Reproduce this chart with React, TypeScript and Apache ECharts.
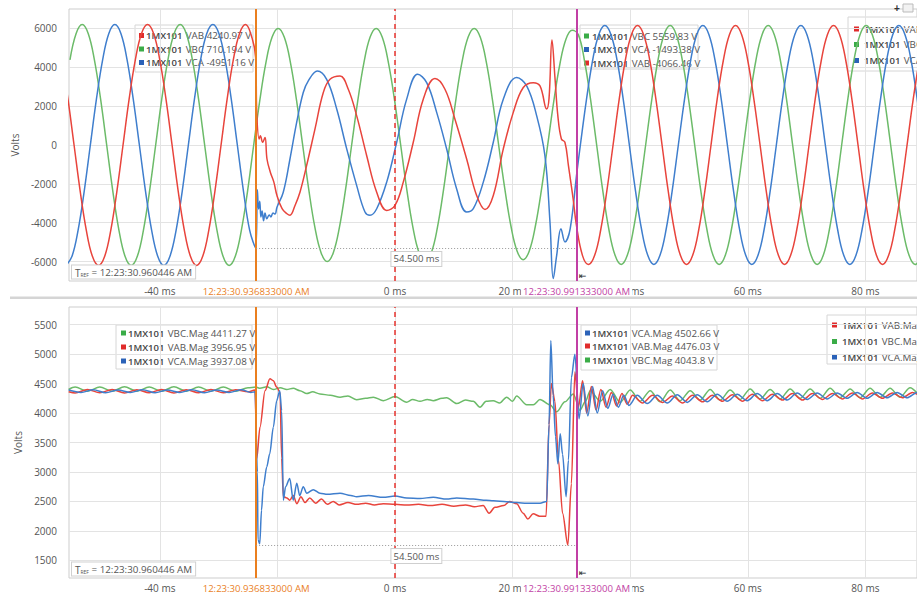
import React, { useEffect, useRef } from 'react';
import * as echarts from 'echarts';

// ---------- data ----------
const cursorA = -23.613; // ms, 12:23:30.936833000 AM
const cursorB = 30.887; // ms, 12:23:30.991333000 AM
const cursorALabel = '12:23:30.936833000 AM';
const cursorBLabel = '12:23:30.991333000 AM';
const trefLabel = ' = 12:23:30.960446 AM';
const deltaLabel = '54.500 ms';
const deltaLevelTop = -5300;
const deltaLevelMag = 1760;

const xTickMin = -40;
const xTickMax = 80;
const xTickStep = 20;
const topTickMin = -6000;
const topTickMax = 6000;
const topTickStep = 2000;
const magTickMin = 1500;
const magTickMax = 5500;
const magTickStep = 500;

// time (ms), volts
const vbcTop: number[][] = [[-55.28,4380],[-54.24,5730],[-53.2,6200],[-52.16,5730],[-51.12,4380],[-50.07,2370],[-49.03,0],[-47.99,-2370],[-46.95,-4380],[-45.91,-5730],[-44.87,-6200],[-43.82,-5730],[-42.78,-4380],[-41.74,-2370],[-40.7,0],[-39.66,2370],[-38.62,4380],[-37.57,5730],[-36.53,6200],[-35.49,5730],[-34.45,4380],[-33.41,2370],[-32.37,0],[-31.32,-2370],[-30.28,-4380],[-29.24,-5730],[-28.2,-6200],[-27.16,-5730],[-26.12,-4380],[-25.07,-2370],[-24.03,0],[-22.99,2300],[-21.95,4240],[-20.91,5540],[-19.87,6000],[-18.82,5540],[-17.78,4240],[-16.74,2300],[-15.7,0],[-14.66,-2300],[-13.62,-4240],[-12.57,-5540],[-11.53,-6000],[-10.49,-5540],[-9.45,-4240],[-8.41,-2300],[-7.37,0],[-6.32,2300],[-5.28,4240],[-4.24,5540],[-3.2,6000],[-2.16,5540],[-1.12,4240],[-0.07,2300],[0.97,0],[2.01,-2300],[3.05,-4240],[4.09,-5540],[5.13,-6000],[6.18,-5540],[7.22,-4240],[8.26,-2300],[9.3,0],[10.34,2300],[11.38,4240],[12.43,5540],[13.47,6000],[14.51,5540],[15.55,4240],[16.59,2300],[17.63,0],[18.68,-2260],[19.72,-4170],[20.76,-5450],[21.8,-5900],[22.84,-5450],[23.88,-4170],[24.93,-2260],[25.97,0],[27.01,2260],[28.05,4170],[29.09,5450],[30.13,5900],[31.18,5680],[32.22,4350],[33.26,2350],[34.3,0],[35.34,-2350],[36.38,-4350],[37.43,-5680],[38.47,-6150],[39.51,-5680],[40.55,-4350],[41.59,-2350],[42.63,0],[43.68,2350],[44.72,4350],[45.76,5680],[46.8,6150],[47.84,5680],[48.88,4350],[49.93,2350],[50.97,0],[52.01,-2350],[53.05,-4350],[54.09,-5680],[55.13,-6150],[56.18,-5680],[57.22,-4350],[58.26,-2350],[59.3,0],[60.34,2350],[61.38,4350],[62.43,5680],[63.47,6150],[64.51,5680],[65.55,4350],[66.59,2350],[67.63,0],[68.68,-2350],[69.72,-4350],[70.76,-5680],[71.8,-6150],[72.84,-5680],[73.88,-4350],[74.93,-2350],[75.97,0],[77.01,2350],[78.05,4350],[79.09,5680],[80.13,6150],[81.18,5680],[82.22,4350],[83.26,2350],[84.3,0],[85.34,-2350],[86.38,-4350],[87.43,-5680],[88.47,-6150],[89.51,-5680]];

const vcaTop: number[][] = [[-55.97,-6200],[-54.93,-5730],[-53.89,-4380],[-52.85,-2370],[-51.81,0],[-50.77,2370],[-49.72,4380],[-48.68,5730],[-47.64,6200],[-46.6,5730],[-45.56,4380],[-44.52,2370],[-43.47,0],[-42.43,-2370],[-41.39,-4380],[-40.35,-5730],[-39.31,-6200],[-38.27,-5730],[-37.22,-4380],[-36.18,-2370],[-35.14,0],[-34.1,2370],[-33.06,4380],[-32.02,5730],[-30.97,6200],[-29.93,5730],[-28.89,4380],[-27.85,2370],[-26.81,0],[-25.77,-2370],[-24.72,-4380],[-23.7,-5300],[-23.4,-2300],[-23.2,-3300],[-23.0,-2900],[-22.8,-3700],[-22.6,-3400],[-22.35,-3900],[-22.1,-3500],[-21.8,-3800],[-21.4,-3600],[-21.1,-3700],[-20.75,-3500],[-20.4,-3550],[-20.07,-3200],[-19.0,-2430],[-17.86,-720],[-16.72,1160],[-15.6,2700],[-14.74,3300],[-13.21,3810],[-11.62,3380],[-9.91,1850],[-8.21,-200],[-6.51,-2090],[-5.1,-3450],[-4.25,-3620],[-3.11,-3280],[-1.41,-1910],[0.29,140],[1.99,2360],[3.86,3640],[5.39,3210],[7.09,1680],[8.79,-205],[10.49,-2260],[12.19,-3450],[13.32,-3280],[15.02,-1910],[16.72,140],[18.42,2360],[20.7,3470],[22.4,3040],[24.1,1500],[25.5,-550],[26.36,-3960],[26.92,-6870],[27.5,-5680],[28.23,-4310],[28.91,-4990],[29.8,-4300],[30.9,-1500],[31.53,0],[32.57,2350],[33.61,4350],[34.65,5680],[35.69,6150],[36.74,5680],[37.78,4350],[38.82,2350],[39.86,0],[40.9,-2350],[41.94,-4350],[42.99,-5680],[44.03,-6150],[45.07,-5680],[46.11,-4350],[47.15,-2350],[48.19,0],[49.24,2350],[50.28,4350],[51.32,5680],[52.36,6150],[53.4,5680],[54.44,4350],[55.49,2350],[56.53,0],[57.57,-2350],[58.61,-4350],[59.65,-5680],[60.69,-6150],[61.74,-5680],[62.78,-4350],[63.82,-2350],[64.86,0],[65.9,2350],[66.94,4350],[67.99,5680],[69.03,6150],[70.07,5680],[71.11,4350],[72.15,2350],[73.19,0],[74.24,-2350],[75.28,-4350],[76.32,-5680],[77.36,-6150],[78.4,-5680],[79.44,-4350],[80.49,-2350],[81.53,0],[82.57,2350],[83.61,4350],[84.65,5680],[85.69,6150],[86.74,5680],[87.78,4350],[88.82,2350],[89.86,0]];

const vabTop: number[][] = [[-56.66,4380],[-55.62,2370],[-54.58,0],[-53.54,-2370],[-52.5,-4380],[-51.46,-5730],[-50.41,-6200],[-49.37,-5730],[-48.33,-4380],[-47.29,-2370],[-46.25,0],[-45.21,2370],[-44.16,4380],[-43.12,5730],[-42.08,6200],[-41.04,5730],[-40.0,4380],[-38.95,2370],[-37.91,0],[-36.87,-2370],[-35.83,-4380],[-34.79,-5730],[-33.75,-6200],[-32.7,-5730],[-31.66,-4380],[-30.62,-2370],[-29.58,0],[-28.54,2370],[-27.5,4380],[-26.45,5730],[-25.41,6200],[-24.3,5500],[-23.7,4500],[-23.5,1600],[-23.1,310],[-22.9,480],[-22.5,140],[-22.1,390],[-21.77,-720],[-21.2,-1400],[-20.6,-1910],[-20.07,-2600],[-19.2,-3280],[-18.37,-3540],[-17.86,-3620],[-17.0,-3110],[-16.16,-2430],[-15.03,-1060],[-13.61,820],[-12.19,2700],[-11.05,3380],[-9.35,3550],[-7.94,2870],[-6.51,1500],[-4.81,-550],[-3.11,-2430],[-1.41,-3370],[0.0,-3110],[1.41,-1910],[3.11,140],[4.81,2360],[6.8,3420],[8.5,2870],[10.2,1330],[12.19,-720],[13.89,-2600],[15.31,-3320],[16.72,-2600],[18.42,-200],[20.12,1680],[21.82,2960],[23.52,3210],[24.66,3040],[25.8,1850],[26.2,2400],[26.7,5400],[27.2,3500],[27.7,1500],[28.3,310],[28.9,140],[29.5,-1060],[30.3,-2770],[30.84,-4100],[31.88,-5680],[32.92,-6150],[33.96,-5680],[35.0,-4350],[36.04,-2350],[37.09,0],[38.13,2350],[39.17,4350],[40.21,5680],[41.25,6150],[42.29,5680],[43.34,4350],[44.38,2350],[45.42,0],[46.46,-2350],[47.5,-4350],[48.54,-5680],[49.59,-6150],[50.63,-5680],[51.67,-4350],[52.71,-2350],[53.75,0],[54.79,2350],[55.84,4350],[56.88,5680],[57.92,6150],[58.96,5680],[60.0,4350],[61.04,2350],[62.09,0],[63.13,-2350],[64.17,-4350],[65.21,-5680],[66.25,-6150],[67.29,-5680],[68.34,-4350],[69.38,-2350],[70.42,0],[71.46,2350],[72.5,4350],[73.54,5680],[74.59,6150],[75.63,5680],[76.67,4350],[77.71,2350],[78.75,0],[79.79,-2350],[80.84,-4350],[81.88,-5680],[82.92,-6150],[83.96,-5680],[85.0,-4350],[86.04,-2350],[87.09,0],[88.13,2350],[89.17,4350]];

const vbcMag: number[][] = [[-55.5,4400],[-54.4,4440],[-52.3,4370],[-50.2,4440],[-48.1,4370],[-46.0,4445],[-43.9,4370],[-41.8,4440],[-39.7,4370],[-37.6,4445],[-35.5,4370],[-33.4,4440],[-31.3,4370],[-29.2,4440],[-27.1,4370],[-25.0,4430],[-23.64,4440],[-22.96,4420],[-21.8,4445],[-20.69,4400],[-19.5,4430],[-18.42,4400],[-17.3,4420],[-16.16,4380],[-15.02,4330],[-14.0,4360],[-12.76,4325],[-11.0,4300],[-9.35,4270],[-8.0,4290],[-6.52,4225],[-5.0,4250],[-3.68,4270],[-1.98,4210],[0.0,4280],[1.98,4185],[3.0,4230],[4.25,4200],[5.5,4230],[6.52,4210],[8.0,4250],[8.79,4260],[10.49,4160],[12.0,4220],[13.32,4200],[14.46,4100],[15.5,4200],[16.72,4210],[17.8,4170],[18.99,4270],[20.0,4200],[20.69,4290],[22.39,4140],[23.53,4140],[24.66,4230],[26.36,4140],[27.49,4020],[28.91,4190],[30.33,4325],[31.46,4045],[32.4,4200],[33.2,4380],[34.9,4200],[36.6,4400],[38.3,4180],[40.0,4390],[41.7,4200],[43.4,4380],[45.1,4190],[46.8,4390],[48.5,4210],[50.2,4380],[51.9,4220],[53.6,4400],[55.3,4220],[57.0,4390],[58.7,4230],[60.4,4410],[62.1,4240],[63.8,4400],[65.5,4240],[67.2,4410],[68.9,4250],[70.6,4410],[72.3,4250],[74.0,4420],[75.7,4260],[77.4,4410],[79.1,4260],[80.8,4420],[82.5,4270],[84.2,4420],[85.9,4270],[87.6,4430],[89.3,4280]];

const vabMag: number[][] = [[-55.5,4360],[-54.4,4340],[-52.3,4400],[-50.2,4345],[-48.1,4400],[-46.0,4340],[-43.9,4395],[-41.8,4345],[-39.7,4400],[-37.6,4340],[-35.5,4395],[-33.4,4345],[-31.3,4400],[-29.2,4345],[-27.1,4395],[-25.0,4360],[-23.8,4390],[-23.5,3230],[-22.96,3760],[-22.1,4380],[-21.26,4580],[-20.69,4550],[-20.12,4440],[-19.55,4350],[-19.27,3230],[-18.99,2580],[-18.4,2560],[-17.9,2520],[-17.3,2600],[-16.7,2460],[-16.0,2580],[-15.3,2480],[-14.5,2560],[-13.5,2470],[-12.5,2540],[-11.5,2450],[-10.5,2500],[-9.5,2440],[-8.0,2480],[-6.5,2450],[-5.0,2470],[-3.5,2440],[-2.0,2460],[0.0,2450],[2.0,2440],[4.0,2450],[6.0,2430],[8.0,2450],[10.0,2420],[12.0,2440],[13.5,2410],[15.0,2430],[16.0,2300],[17.0,2400],[18.5,2430],[19.5,2500],[20.7,2460],[21.8,2300],[22.6,2200],[23.5,2290],[24.6,2250],[25.7,2250],[26.2,3800],[26.6,4500],[27.2,4200],[27.8,3200],[28.5,2300],[29.4,1760],[30.0,2800],[30.6,4700],[31.2,4100],[31.9,4550],[32.6,4000],[33.4,4450],[34.2,4050],[35.0,4400],[35.9,4100],[36.8,4350],[37.7,4120],[38.6,4330],[39.5,4150],[40.4,4300],[42.1,4170],[43.8,4300],[45.5,4180],[47.2,4290],[48.9,4170],[50.6,4300],[52.3,4190],[54.0,4300],[55.7,4200],[57.4,4310],[59.1,4200],[60.8,4320],[62.5,4210],[64.2,4320],[65.9,4220],[67.6,4330],[69.3,4220],[71.0,4330],[72.7,4230],[74.4,4330],[76.1,4240],[77.8,4340],[79.5,4240],[81.2,4340],[82.9,4250],[84.6,4340],[86.3,4260],[88.0,4350],[89.7,4260]];

const vcaMag: number[][] = [[-55.5,4390],[-53.4,4350],[-51.3,4395],[-49.2,4345],[-47.1,4390],[-45.0,4350],[-42.9,4395],[-40.8,4345],[-38.7,4390],[-36.6,4350],[-34.5,4395],[-32.4,4345],[-30.3,4390],[-28.2,4350],[-26.1,4395],[-24.5,4350],[-23.8,4360],[-23.4,3000],[-23.3,1850],[-23.0,1780],[-22.7,2350],[-22.4,2750],[-21.8,3090],[-21.3,3310],[-20.69,3760],[-20.12,4210],[-19.6,4380],[-19.27,4040],[-18.99,2520],[-18.6,2750],[-17.9,2890],[-17.3,2520],[-16.7,2810],[-16.2,2600],[-15.6,2750],[-15.0,2640],[-13.9,2700],[-12.76,2640],[-11.5,2620],[-9.35,2640],[-7.5,2600],[-6.52,2580],[-4.5,2600],[-2.0,2570],[0.0,2590],[2.0,2560],[4.25,2550],[6.5,2570],[8.79,2540],[10.5,2560],[13.32,2540],[15.5,2520],[16.72,2510],[18.99,2495],[20.69,2480],[22.39,2470],[24.66,2470],[25.8,2500],[26.2,3800],[26.5,5230],[26.9,4300],[27.3,3600],[27.7,3140],[28.1,3650],[28.5,3300],[29.1,2580],[29.5,3200],[30.0,4600],[30.6,5000],[31.3,3900],[32.0,4500],[32.8,3950],[33.6,4450],[34.4,4000],[35.3,4380],[36.2,4080],[37.1,4320],[38.0,4100],[38.9,4300],[39.8,4130],[41.2,4300],[42.9,4160],[44.6,4300],[46.3,4170],[48.0,4310],[49.7,4180],[51.4,4310],[53.1,4190],[54.8,4320],[56.5,4200],[58.2,4320],[59.9,4210],[61.6,4330],[63.3,4210],[65.0,4330],[66.7,4220],[68.4,4340],[70.1,4230],[71.8,4340],[73.5,4240],[75.2,4340],[76.9,4250],[78.6,4350],[80.3,4250],[82.0,4350],[83.7,4260],[85.4,4350],[87.1,4260],[88.8,4350],[90.5,4270]];

// legend read-outs
const topLegA = [['VAB', '4240.97 V'], ['VBC', '710.194 V'], ['VCA', '-4951.16 V']];
const topLegB = [['VBC', '5559.83 V'], ['VCA', '-1493.38 V'], ['VAB', '-4066.46 V']];
const topLegC = [['VAB', ''], ['VBC', ''], ['VCA', '']];
const magLegA = [['VBC.Mag', '4411.27 V'], ['VAB.Mag', '3956.95 V'], ['VCA.Mag', '3937.08 V']];
const magLegB = [['VCA.Mag', '4502.66 V'], ['VAB.Mag', '4476.03 V'], ['VBC.Mag', '4043.8 V']];
const magLegC = [['VAB.Mag', ''], ['VBC.Mag', ''], ['VCA.Mag', '']];
const devicePrefix = '1MX101';

// ---------- styles ----------
const FONT = '"Open Sans", "Noto Sans", sans-serif';
const RED = '#e8443c';
const GREEN = '#6cbb69';
const BLUE = '#3f7ecd';
const MK = { VAB: '#e02b2b', VBC: '#3aac47', VCA: '#2b62b8' } as Record<string, string>;
const ORANGE = '#ea7f1f';
const PURPLE = '#c23fa5';
const TXT = '#555';

const X_MIN = -55.44;
const X_MAX = 88.78;

function markerColor(name: string) {
  return MK[name.slice(0, 3)];
}

function legendBox(x: number, y: number, w: number, h: number, rows: string[][], rowY: number[], mX: number, tX: number) {
  const children: any[] = [
    { type: 'rect', shape: { x, y, width: w, height: h }, style: { fill: 'rgba(255,255,255,0.92)', stroke: '#d6d6d6', lineWidth: 1 } },
  ];
  rows.forEach((r, i) => {
    children.push({ type: 'rect', shape: { x: mX, y: rowY[i] - 2.5, width: 5, height: 5 }, style: { fill: markerColor(r[0]) } });
    children.push({
      type: 'text', x: tX, y: rowY[i],
      style: {
        text: `{b|${devicePrefix}} {n|${r[0]}${r[1] ? ' ' + r[1] : ''}}`,
        verticalAlign: 'middle',
        rich: {
          b: { fontFamily: FONT, fontSize: 9.5, fontWeight: 600, fill: '#444' },
          n: { fontFamily: FONT, fontSize: 9.8, fill: '#555' },
        },
      },
    });
  });
  return { type: 'group', z: 100, children };
}

function trefBox(y: number) {
  return {
    type: 'text', x: 72, y, z: 100,
    style: {
      text: `{t|T}{s|REF}{n|${trefLabel}}`,
      verticalAlign: 'middle',
      backgroundColor: '#fff', borderColor: '#d0d0d0', borderWidth: 1, padding: [2, 3, 1, 3],
      rich: {
        t: { fontFamily: FONT, fontSize: 10, fill: '#555' },
        s: { fontFamily: FONT, fontSize: 5, fill: '#555', padding: [5, 0, 0, 0] },
        n: { fontFamily: FONT, fontSize: 9.8, fill: '#555' },
      },
    },
  };
}

function cursorMarks(level: number) {
  const lab = (txt: string, col: string) => ({
    show: true, position: 'start', distance: 4, formatter: txt, color: col,
    fontFamily: FONT, fontSize: 9.6, backgroundColor: '#fff', padding: [1, 2],
  });
  return {
    symbol: 'none', silent: true, animation: false,
    data: [
      { xAxis: 0, lineStyle: { color: '#e8332e', type: [5, 4], width: 1.5 }, label: { show: false } },
      { xAxis: cursorA, lineStyle: { color: ORANGE, type: 'solid', width: 2 }, label: lab(cursorALabel, ORANGE) },
      { xAxis: cursorB, lineStyle: { color: PURPLE, type: 'solid', width: 2 }, label: lab(cursorBLabel, PURPLE) },
      [
        { coord: [cursorA, level], lineStyle: { color: '#999', type: [1, 2], width: 1 },
          label: { show: true, position: 'insideMiddleBottom', distance: 4, formatter: deltaLabel, color: TXT, fontFamily: FONT, fontSize: 9.6,
            backgroundColor: '#fff', borderColor: '#cfcfcf', borderWidth: 1, padding: [2, 2] } },
        { coord: [cursorB, level] },
      ],
    ],
  };
}

function lineSeries(name: string, data: number[][], color: string, xi: number, yi: number, extra: any = {}) {
  return {
    type: 'line', name, data, xAxisIndex: xi, yAxisIndex: yi, showSymbol: false, symbol: 'none',
    smooth: 0.4, lineStyle: { color, width: 1.5 }, itemStyle: { color }, animation: false,
    clip: true, ...extra,
  };
}

const labelStyle = { color: TXT, fontFamily: FONT, fontSize: 10 };
const splitStyle = { show: true, lineStyle: { color: '#e3e3e3', width: 1 } };
const plainNum = (v: number) => String(v);

function buildOption() {
  const gTop = 9, gTopH = 272;
  const gBot = 307, gBotH = 271;
  const left = 69;
  const xPx = (t: number) => left + (t - X_MIN) / (X_MAX - X_MIN) * (917 - left);
  const tickLeft = xPx(xTickMin);
  const tickW = xPx(xTickMax) - tickLeft;
  const topYpx = (v: number) => gTop + (7000 - v) / 14000 * gTopH;
  const magYpx = (v: number) => gBot + (5800 - v) / 4600 * gBotH;

  const hiddenX = (gi: number, min: number, max: number) => ({ type: 'value', gridIndex: gi, min, max, show: false });
  const hiddenY = (gi: number, min: number, max: number) => ({ type: 'value', gridIndex: gi, min, max, show: false });

  return {
    animation: false,
    backgroundColor: '#fff',
    grid: [
      { left, right: 0, top: gTop, height: gTopH, show: true, borderColor: '#cdcdcd', borderWidth: 1, backgroundColor: 'transparent' },
      { left, right: 0, top: topYpx(topTickMax), height: topYpx(topTickMin) - topYpx(topTickMax) },
      { left: tickLeft, width: tickW, top: gTop, height: gTopH },
      { left, right: 0, top: gBot, height: gBotH, show: true, borderColor: '#cdcdcd', borderWidth: 1, backgroundColor: 'transparent' },
      { left, right: 0, top: magYpx(magTickMax), height: magYpx(magTickMin) - magYpx(magTickMax) },
      { left: tickLeft, width: tickW, top: gBot, height: gBotH },
    ],
    xAxis: [
      hiddenX(0, X_MIN, X_MAX),
      hiddenX(1, 0, 1),
      { type: 'value', gridIndex: 2, min: xTickMin, max: xTickMax, interval: xTickStep, axisLine: { show: false }, axisTick: { show: false },
        splitLine: splitStyle, axisLabel: { ...labelStyle, margin: 5, formatter: '{value} ms' } },
      hiddenX(3, X_MIN, X_MAX),
      hiddenX(4, 0, 1),
      { type: 'value', gridIndex: 5, min: xTickMin, max: xTickMax, interval: xTickStep, axisLine: { show: false }, axisTick: { show: false },
        splitLine: splitStyle, axisLabel: { ...labelStyle, margin: 5, formatter: '{value} ms' } },
    ],
    yAxis: [
      hiddenY(0, -7000, 7000),
      { type: 'value', gridIndex: 1, min: topTickMin, max: topTickMax, interval: topTickStep, axisLine: { show: false }, axisTick: { show: false },
        splitLine: splitStyle, axisLabel: { ...labelStyle, margin: 12, formatter: plainNum },
        name: 'Volts', nameLocation: 'middle', nameGap: 36, nameTextStyle: { color: TXT, fontFamily: FONT, fontSize: 10 } },
      hiddenY(2, 0, 1),
      hiddenY(3, 1200, 5800),
      { type: 'value', gridIndex: 4, min: magTickMin, max: magTickMax, interval: magTickStep, axisLine: { show: false }, axisTick: { show: false },
        splitLine: splitStyle, axisLabel: { ...labelStyle, margin: 12, formatter: plainNum },
        name: 'Volts', nameLocation: 'middle', nameGap: 36, nameTextStyle: { color: TXT, fontFamily: FONT, fontSize: 10 } },
      hiddenY(5, 0, 1),
    ],
    series: [
      lineSeries('1MX101 VBC', vbcTop, GREEN, 0, 0),
      lineSeries('1MX101 VCA', vcaTop, BLUE, 0, 0),
      lineSeries('1MX101 VAB', vabTop, RED, 0, 0, { markLine: cursorMarks(deltaLevelTop) }),
      lineSeries('1MX101 VBC.Mag', vbcMag, GREEN, 3, 3, { smooth: 0.3, smoothMonotone: 'x' }),
      lineSeries('1MX101 VAB.Mag', vabMag, RED, 3, 3, { smooth: 0.3, smoothMonotone: 'x' }),
      lineSeries('1MX101 VCA.Mag', vcaMag, BLUE, 3, 3, { smooth: 0.3, smoothMonotone: 'x', markLine: cursorMarks(deltaLevelMag) }),
    ],
    graphic: [
      { type: 'rect', shape: { x: 10, y: 296.5, width: 907, height: 2.5 }, style: { fill: '#d5d5d5' }, z: 50 },
      legendBox(135, 25, 118, 47, topLegA, [35.5, 49, 62.5], 139, 146),
      legendBox(580, 25, 118, 44, topLegB, [36, 49.5, 63], 584, 592),
      legendBox(848, 17, 80, 54, topLegC, [29, 44.5, 60.5], 854, 864),
      legendBox(116, 325, 136, 44, magLegA, [333, 347, 361], 121, 128),
      legendBox(581, 325, 136, 45, magLegB, [333, 346, 360], 585, 592),
      legendBox(827, 315, 100, 49, magLegC, [325, 341.5, 357], 832, 842),
      trefBox(272),
      trefBox(569),
      { type: 'text', x: 894, y: 8, z: 101, style: { text: '+', fill: '#333', font: 'bold 10px sans-serif', verticalAlign: 'middle' } },
      { type: 'rect', shape: { x: 903, y: 4, width: 10, height: 8 }, style: { fill: '#f2f2f2', stroke: '#bbb', lineWidth: 1 }, z: 101 },
      { type: 'text', x: 579, y: 276, z: 101, style: { text: '⇤', fill: '#222', font: '9px "DejaVu Sans"', verticalAlign: 'middle' } },
      { type: 'text', x: 579, y: 573, z: 101, style: { text: '⇤', fill: '#222', font: '9px "DejaVu Sans"', verticalAlign: 'middle' } },
    ],
  };
}

export default function App() {
  const ref = useRef<HTMLDivElement>(null);
  useEffect(() => {
    if (!ref.current) return;
    const chart = echarts.init(ref.current, undefined, { renderer: 'svg' });
    chart.setOption(buildOption() as any);
    return () => chart.dispose();
  }, []);
  return <div ref={ref} style={{ position: 'absolute', left: 0, top: 0, width: 917, height: 596, background: '#fff' }} />;
}
